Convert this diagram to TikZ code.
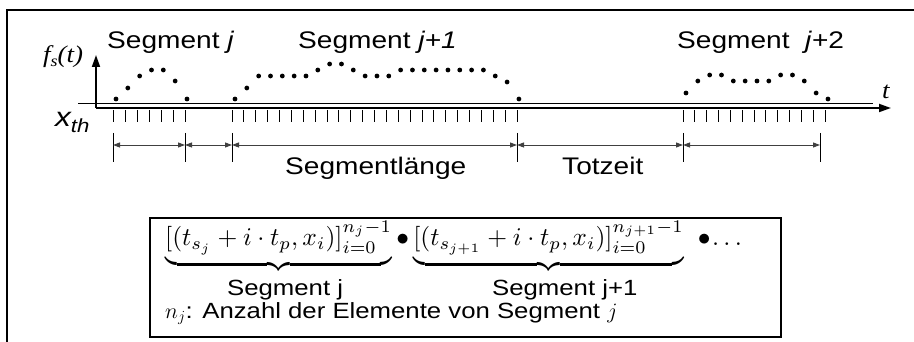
\RequirePackage{fix-cm}
\documentclass[tikz,border=0pt]{standalone}
\usepackage{graphicx}
\usepackage{fontspec}
\setmainfont[FakeStretch=1.17]{Liberation Sans}
\newfontfamily\tnr[FakeStretch=1.12]{Liberation Serif}
\usetikzlibrary{arrows.meta}
\begin{document}
\begin{tikzpicture}[x=1pt,y=-1pt,
  frame/.style={line width=2.6pt},
  axis/.style={line width=1.8pt,-{Triangle[length=12pt,width=8pt]}},
  thr/.style={line width=0.9pt},
  tickmark/.style={line width=0.9pt},
  dimbar/.style={line width=0.9pt},
  dimarrow/.style={line width=0.9pt,draw=black!75,{Triangle[length=7pt,width=5pt]}-{Triangle[length=7pt,width=5pt]}},
  lbl/.style={inner sep=0pt,anchor=base west,font=\fontsize{24}{28}\selectfont},
  boxlbl/.style={inner sep=0pt,anchor=base west,font=\fontsize{22}{26}\selectfont},
  serif/.style={inner sep=0pt,anchor=base west,font=\tnr\itshape\fontsize{24}{28}\selectfont}]
\useasboundingbox (0,0) rectangle (914,342);
% outer frame
\draw[frame] (7,342) -- (7,10) -- (914,10);
% threshold line
\coordinate (thrL) at (78,103);
\coordinate (thrR) at (873,103);
\draw[thr] (thrL) -- (thrR);
% axes
\coordinate (O) at (96,108);
\coordinate (yend) at (96,55);
\coordinate (xend) at (891,108);
\draw[axis] (O) -- (yend);
\draw[axis] (O) -- (xend);
% ticks
\foreach \k in {0,...,6} \draw[tickmark] ({113+12*\k},110) -- ({113+12*\k},122);
\foreach \k in {0,...,24} \draw[tickmark] ({232+11.875*\k},110) -- ({232+11.875*\k},122);
\foreach \k in {0,...,12} \draw[tickmark] ({683+11.83*\k},110) -- ({683+11.83*\k},122);
% samples
\foreach \yy [count=\k from 0] in {99,88,76,70,70,81,99}
  \fill ({116+11.83*\k},\yy) circle (2.4);
\foreach \yy [count=\k from 0] in {99,88,76,76,76,76,76,70,64,64,70,76,76,76,70,70,70,70,70,70,70,70,76,82,99}
  \fill ({235+11.83*\k},\yy) circle (2.4);
\foreach \yy [count=\k from 0] in {93,81,75,75,81,81,81,81,75,75,81,93,99}
  \fill ({686+11.83*\k},\yy) circle (2.4);
% dimension lines
\foreach \n/\xx in {1/113,2/185,3/232,4/517,5/683,6/820}{
  \coordinate (m\n) at (\xx,145);
  \draw[dimbar] (\xx,133) -- (\xx,162);
}
\draw[dimarrow] (m1) -- (m2);
\draw[dimarrow] (m2) -- (m3);
\draw[dimarrow] (m3) -- (m4);
\draw[dimarrow] (m4) -- (m5);
\draw[dimarrow] (m5) -- (m6);
% labels
\node[lbl] (sj) at (107,49) {Segment \textit{j}};
\node[lbl] (sj1) at (298,49) {Segment \textit{j+1}};
\node[lbl] (sj2) at (677,49) {Segment \ \textit{j}+2};
\node[lbl] (slen) at (285,175) {Segmentlänge};
\node[lbl] (tot) at (562,175) {Totzeit};
\node[serif] (fs) at (43,63) {f\raisebox{-4pt}{\fontsize{16}{16}\selectfont s}(t)};
\node[serif] (tlab) at (882,99) {t};
\node[inner sep=0pt,anchor=base west,font=\itshape\fontsize{27}{30}\selectfont] (xth) at (55,127) {x\raisebox{-6pt}{\fontsize{19}{20}\selectfont th}};
% lower box
\node[frame,draw,minimum width=631pt,minimum height=119pt,inner sep=0pt] (box) at (465.5,277.5) {};
\node[inner sep=0pt,anchor=base west] (formula) at (165,246)
  {\scalebox{2.55}{\fontsize{10}{12}\selectfont$\underbrace{[(t_{s_j}+i\cdot t_p,x_i)]_{i=0}^{n_j-1}}\bullet\underbrace{[(t_{s_{j+1}}+i\cdot t_p,x_i)]_{i=0}^{n_{j+1}-1}}\mkern7mu\bullet\mkern-2mu\dots$}};
\node[boxlbl] (bj) at (227,295) {Segment j};
\node[boxlbl] (bj1) at (492,295) {Segment j+1};
\node[boxlbl] (nj) at (165,318) {$n_j$: Anzahl der Elemente von Segment $j$};
\end{tikzpicture}
\end{document}
